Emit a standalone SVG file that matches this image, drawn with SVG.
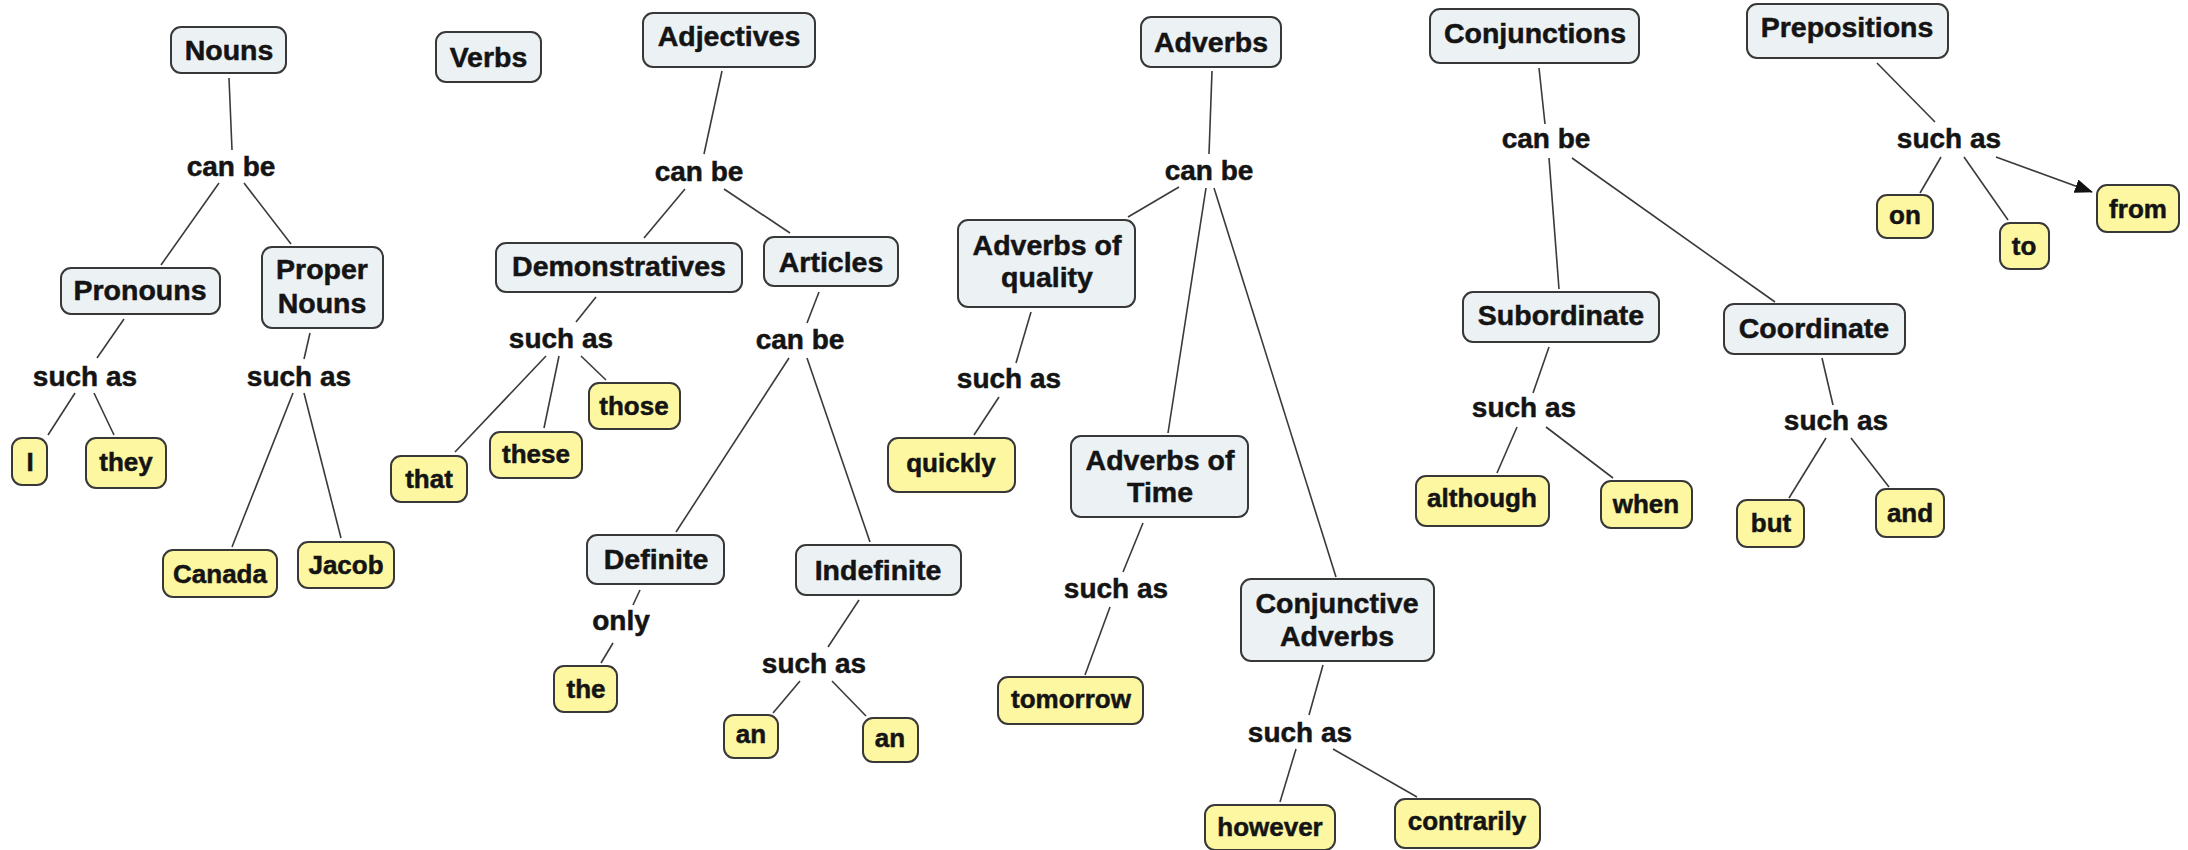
<svg xmlns="http://www.w3.org/2000/svg" width="2188" height="850" viewBox="0 0 2188 850">
<style>
text{font-family:"Liberation Sans",Arial,sans-serif;font-weight:bold;fill:#141414;stroke:#141414;stroke-width:0.5;text-anchor:middle}
.c rect{fill:#ecf1f4;stroke:#383838;stroke-width:2}
.e rect{fill:#fcf7a0;stroke:#383838;stroke-width:2}
.c text{font-size:28.5px}
.e text{font-size:26px}
.k{font-size:28px}
#links line{stroke:#3a3a3a;stroke-width:1.6}
</style>
<defs>
<marker id="arr" markerUnits="userSpaceOnUse" markerWidth="18" markerHeight="14" refX="17" refY="7" orient="auto">
<path d="M0,0 L18,7 L0,14 z" fill="#111"/>
</marker>
</defs>
<rect width="2188" height="850" fill="#fff"/>
<g id="links">
<line x1="229" y1="78" x2="232" y2="150"/>
<line x1="219" y1="183" x2="161" y2="265"/>
<line x1="244" y1="183" x2="291" y2="244"/>
<line x1="124" y1="319" x2="97" y2="358"/>
<line x1="310" y1="333" x2="304" y2="359"/>
<line x1="75" y1="393" x2="48" y2="435"/>
<line x1="94" y1="393" x2="114" y2="435"/>
<line x1="293" y1="393" x2="232" y2="547"/>
<line x1="304" y1="393" x2="341" y2="538"/>
<line x1="722" y1="71" x2="704" y2="154"/>
<line x1="685" y1="189" x2="644" y2="238"/>
<line x1="724" y1="189" x2="790" y2="233"/>
<line x1="596" y1="297" x2="576" y2="322"/>
<line x1="819" y1="292" x2="807" y2="323"/>
<line x1="546" y1="356" x2="455" y2="452"/>
<line x1="559" y1="356" x2="544" y2="428"/>
<line x1="581" y1="356" x2="606" y2="380"/>
<line x1="789" y1="358" x2="676" y2="532"/>
<line x1="807" y1="358" x2="870" y2="542"/>
<line x1="640" y1="590" x2="633" y2="605"/>
<line x1="613" y1="643" x2="601" y2="663"/>
<line x1="859" y1="600" x2="828" y2="647"/>
<line x1="800" y1="681" x2="773" y2="713"/>
<line x1="832" y1="681" x2="866" y2="716"/>
<line x1="1212" y1="71" x2="1209" y2="154"/>
<line x1="1179" y1="187" x2="1128" y2="217"/>
<line x1="1206" y1="188" x2="1168" y2="433"/>
<line x1="1214" y1="188" x2="1336" y2="577"/>
<line x1="1031" y1="312" x2="1016" y2="363"/>
<line x1="999" y1="397" x2="974" y2="435"/>
<line x1="1143" y1="523" x2="1123" y2="572"/>
<line x1="1110" y1="607" x2="1085" y2="675"/>
<line x1="1323" y1="665" x2="1309" y2="715"/>
<line x1="1296" y1="749" x2="1280" y2="802"/>
<line x1="1333" y1="749" x2="1417" y2="797"/>
<line x1="1539" y1="68" x2="1545" y2="124"/>
<line x1="1549" y1="158" x2="1559" y2="289"/>
<line x1="1572" y1="158" x2="1775" y2="302"/>
<line x1="1549" y1="347" x2="1533" y2="393"/>
<line x1="1822" y1="358" x2="1833" y2="405"/>
<line x1="1517" y1="427" x2="1497" y2="473"/>
<line x1="1546" y1="427" x2="1613" y2="478"/>
<line x1="1826" y1="438" x2="1789" y2="498"/>
<line x1="1851" y1="438" x2="1889" y2="487"/>
<line x1="1877" y1="63" x2="1935" y2="122"/>
<line x1="1941" y1="157" x2="1920" y2="193"/>
<line x1="1964" y1="157" x2="2008" y2="220"/>
<line x1="1996" y1="157" x2="2092" y2="192" marker-end="url(#arr)"/>
</g>
<g id="linking-phrases">
<text class="k" x="231" y="176">can be</text>
<text class="k" x="85" y="386">such as</text>
<text class="k" x="299" y="386">such as</text>
<text class="k" x="699" y="181">can be</text>
<text class="k" x="561" y="348">such as</text>
<text class="k" x="800" y="349">can be</text>
<text class="k" x="621" y="630">only</text>
<text class="k" x="814" y="673">such as</text>
<text class="k" x="1209" y="180">can be</text>
<text class="k" x="1009" y="388">such as</text>
<text class="k" x="1116" y="598">such as</text>
<text class="k" x="1300" y="742">such as</text>
<text class="k" x="1546" y="148">can be</text>
<text class="k" x="1524" y="417">such as</text>
<text class="k" x="1836" y="430">such as</text>
<text class="k" x="1949" y="148">such as</text>
</g>
<g id="nouns" class="c"><rect x="171" y="27" width="115" height="46" rx="10"/><text x="229" y="60">Nouns</text></g>
<g id="verbs" class="c"><rect x="436" y="32" width="105" height="50" rx="10"/><text x="488.5" y="67">Verbs</text></g>
<g id="adjectives" class="c"><rect x="643" y="13" width="172" height="54" rx="10"/><text x="729" y="46">Adjectives</text></g>
<g id="adverbs" class="c"><rect x="1141" y="17" width="140" height="50" rx="10"/><text x="1211" y="52">Adverbs</text></g>
<g id="conjunctions" class="c"><rect x="1430" y="9" width="209" height="54" rx="10"/><text x="1535" y="43">Conjunctions</text></g>
<g id="prepositions" class="c"><rect x="1747" y="4" width="201" height="54" rx="10"/><text x="1847" y="37">Prepositions</text></g>
<g id="pronouns" class="c"><rect x="61" y="268" width="159" height="46" rx="10"/><text x="140" y="300">Pronouns</text></g>
<g id="proper-nouns" class="c"><rect x="262" y="247" width="121" height="81" rx="10"/><text x="322" y="279">Proper</text><text x="322" y="313">Nouns</text></g>
<g id="demonstratives" class="c"><rect x="496" y="243" width="246" height="49" rx="10"/><text x="619" y="276">Demonstratives</text></g>
<g id="articles" class="c"><rect x="764" y="237" width="134" height="49" rx="10"/><text x="831" y="272">Articles</text></g>
<g id="definite" class="c"><rect x="587" y="535" width="137" height="49" rx="10"/><text x="656" y="569">Definite</text></g>
<g id="indefinite" class="c"><rect x="796" y="545" width="165" height="50" rx="10"/><text x="878" y="580">Indefinite</text></g>
<g id="adverbs-quality" class="c"><rect x="958" y="220" width="177" height="87" rx="10"/><text x="1047" y="255">Adverbs of</text><text x="1047" y="287">quality</text></g>
<g id="adverbs-time" class="c"><rect x="1071" y="436" width="177" height="81" rx="10"/><text x="1160" y="470">Adverbs of</text><text x="1160" y="502">Time</text></g>
<g id="conjunctive-adverbs" class="c"><rect x="1241" y="579" width="193" height="82" rx="10"/><text x="1337" y="613">Conjunctive</text><text x="1337" y="646">Adverbs</text></g>
<g id="subordinate" class="c"><rect x="1463" y="292" width="196" height="50" rx="10"/><text x="1561" y="325">Subordinate</text></g>
<g id="coordinate" class="c"><rect x="1724" y="304" width="181" height="50" rx="10"/><text x="1814" y="338">Coordinate</text></g>
<g id="ex-i" class="e"><rect x="12" y="438" width="35" height="47" rx="10"/><text x="30" y="471">I</text></g>
<g id="ex-they" class="e"><rect x="86" y="438" width="80" height="50" rx="10"/><text x="126" y="471">they</text></g>
<g id="ex-canada" class="e"><rect x="163" y="550" width="114" height="47" rx="10"/><text x="220" y="583">Canada</text></g>
<g id="ex-jacob" class="e"><rect x="298" y="542" width="96" height="46" rx="10"/><text x="346" y="574">Jacob</text></g>
<g id="ex-that" class="e"><rect x="391" y="456" width="76" height="46" rx="10"/><text x="429" y="488">that</text></g>
<g id="ex-these" class="e"><rect x="490" y="432" width="92" height="46" rx="10"/><text x="536" y="463">these</text></g>
<g id="ex-those" class="e"><rect x="589" y="383" width="91" height="46" rx="10"/><text x="634" y="415">those</text></g>
<g id="ex-the" class="e"><rect x="554" y="666" width="63" height="46" rx="10"/><text x="586" y="698">the</text></g>
<g id="ex-an1" class="e"><rect x="724" y="715" width="54" height="43" rx="10"/><text x="751" y="743">an</text></g>
<g id="ex-an2" class="e"><rect x="863" y="718" width="55" height="44" rx="10"/><text x="890" y="747">an</text></g>
<g id="ex-quickly" class="e"><rect x="888" y="438" width="127" height="54" rx="10"/><text x="951" y="472">quickly</text></g>
<g id="ex-tomorrow" class="e"><rect x="998" y="677" width="145" height="47" rx="10"/><text x="1071" y="708">tomorrow</text></g>
<g id="ex-however" class="e"><rect x="1205" y="805" width="130" height="45" rx="10"/><text x="1270" y="836">however</text></g>
<g id="ex-contrarily" class="e"><rect x="1395" y="799" width="145" height="49" rx="10"/><text x="1467" y="830">contrarily</text></g>
<g id="ex-although" class="e"><rect x="1416" y="476" width="133" height="50" rx="10"/><text x="1482" y="507">although</text></g>
<g id="ex-when" class="e"><rect x="1601" y="481" width="91" height="47" rx="10"/><text x="1646" y="513">when</text></g>
<g id="ex-but" class="e"><rect x="1737" y="500" width="67" height="47" rx="10"/><text x="1771" y="532">but</text></g>
<g id="ex-and" class="e"><rect x="1876" y="489" width="68" height="48" rx="10"/><text x="1910" y="522">and</text></g>
<g id="ex-on" class="e"><rect x="1877" y="195" width="56" height="43" rx="10"/><text x="1905" y="224">on</text></g>
<g id="ex-to" class="e"><rect x="2000" y="223" width="49" height="46" rx="10"/><text x="2024" y="255">to</text></g>
<g id="ex-from" class="e"><rect x="2097" y="185" width="82" height="47" rx="10"/><text x="2138" y="218">from</text></g>
</svg>
